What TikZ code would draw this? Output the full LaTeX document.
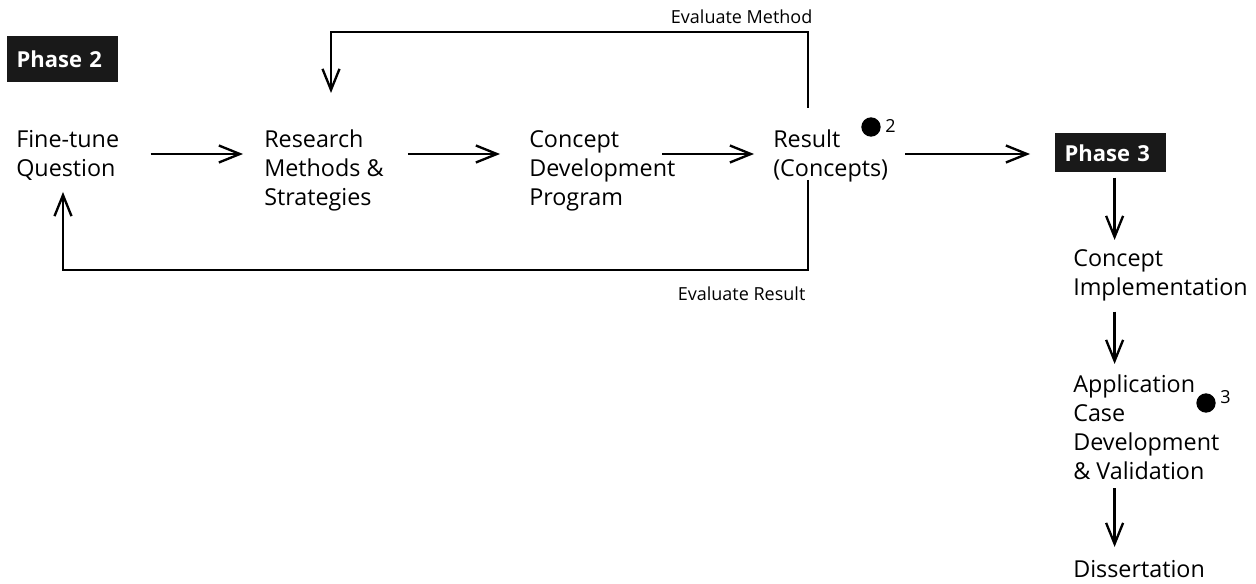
\documentclass[tikz,border=0pt]{standalone}
\usepackage{fontspec}
\setmainfont{Open Sans}
\usetikzlibrary{arrows.meta}

\begin{document}
\begin{tikzpicture}[x=0.75pt, y=-0.75pt,
  txt/.style={anchor=north west, inner sep=0pt, align=left, font=\fontsize{17.5}{21.75}\selectfont},
  phase/.style={anchor=north west, fill=black!90, text=white, font=\fontsize{16.5}{20}\selectfont\bfseries, inner xsep=7pt, text width=69pt, align=left, minimum height=34.5pt},
  lbl/.style={font=\fontsize{13.5}{15}\selectfont},
  arr/.style={-{Straight Barb[length=15.75pt,width=12.75pt]}, line width=1.75pt},
  dot/.style={circle, fill=black, inner sep=0pt, minimum size=14.5pt}]
\useasboundingbox (0,0) rectangle (1256,584);

\node[phase] (p2) at (7,36) {Phase 2};
\node[txt] (q) at (16,130) {Fine-tune\\Question};
\node[txt] (rm) at (264,130) {Research\\Methods \&\\Strategies};
\node[txt] (cd) at (529,130) {Concept\\Development\\Program};
\node[txt] (res) at (773,130) {Result\\(Concepts)};
\node[phase, minimum height=29.25pt] (p3) at (1055,133) {Phase 3};
\node[txt] (ci) at (1073,249) {Concept\\Implementation};
\node[txt] (ac) at (1073,375) {Application\\Case\\Development\\\& Validation};
\node[txt] (dis) at (1073,560) {Dissertation};

\node[dot] (d2) at (871,127) {};
\node[lbl, anchor=west, inner sep=0pt] (n2) at (885,126) {2};
\node[dot] (d3) at (1206,403) {};
\node[lbl, anchor=west, inner sep=0pt] (n3) at (1220,397) {3};

\coordinate (row) at (0,154);
\coordinate (tp) at (0,32);
\coordinate (bt) at (0,270);
\coordinate (vx) at ([xshift=3pt]p3.south);

\draw[arr, shorten <=23.5pt, shorten >=15.75pt] (q.east |- row) -- (rm.west |- row);
\draw[arr, shorten <=18pt, shorten >=21.75pt] (rm.east |- row) -- (cd.west |- row);
\draw[arr, shorten <=-10pt, shorten >=14.25pt] (cd.east |- row) -- (res.west |- row);
\draw[arr, shorten <=12.75pt, shorten >=18.75pt] (res.east |- row) -- (p3.west |- row);

\draw[arr, shorten <=3.75pt, shorten >=6.75pt] (vx) -- (vx |- ci.north);
\draw[arr, shorten <=8pt, shorten >=8.25pt] (vx |- ci.south) -- (vx |- ac.north);
\draw[arr, shorten <=6pt, shorten >=9.75pt] (vx |- ac.south) -- (vx |- dis.north);

\coordinate (m1) at ([shift={(35,-22)}]res.north west);
\coordinate (m2) at ([shift={(67,-37)}]rm.north west);
\coordinate (r1) at ([shift={(35,50)}]res.north west);
\coordinate (r2) at ([shift={(47,62)}]q.north west);

\draw[arr] (m1) -- (m1 |- tp) node[lbl, anchor=base east, xshift=7.5pt, yshift=6pt] {Evaluate Method} -| (m2);
\draw[arr] (r1) -- (r1 |- bt) node[lbl, anchor=north east, xshift=2.25pt, yshift=-8.25pt] {Evaluate Result} -| (r2);
\end{tikzpicture}
\end{document}
